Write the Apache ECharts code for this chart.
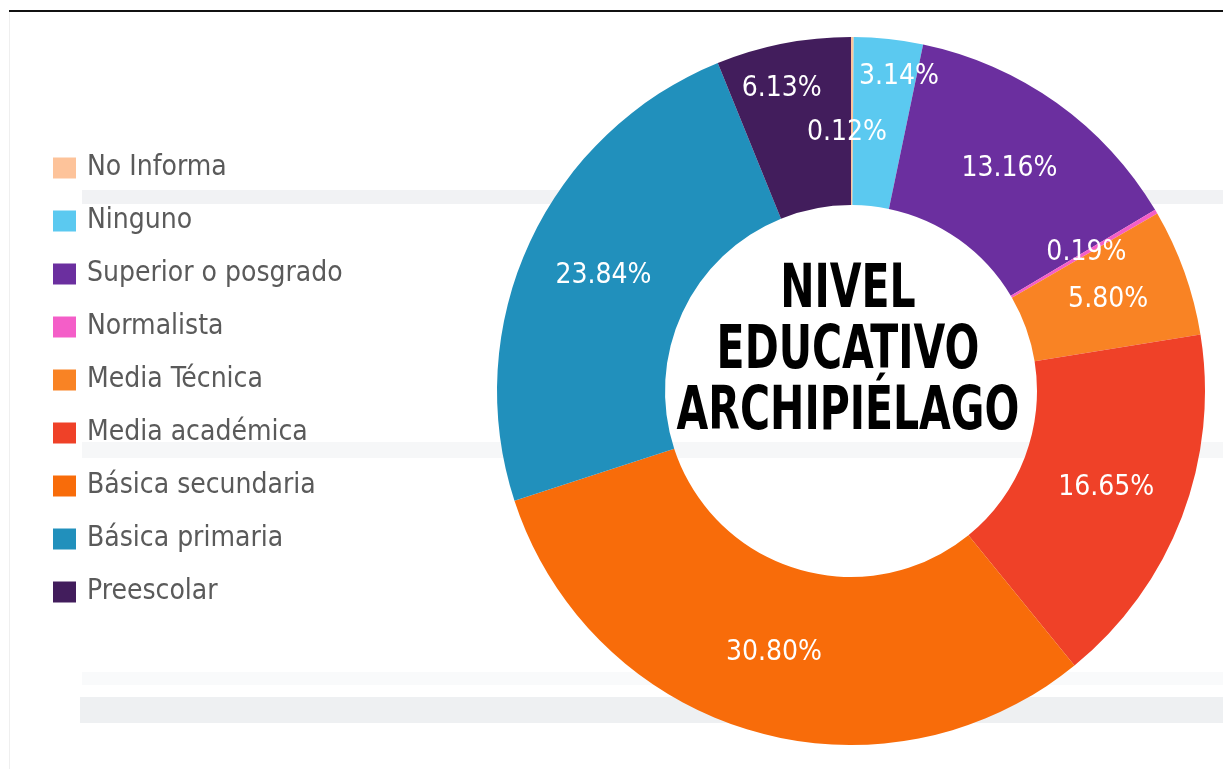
<!DOCTYPE html>
<html lang="es">
<head>
  <meta charset="UTF-8">
  <title>Nivel educativo Archipiélago</title>
  <style>
    body {
      margin: 0;
      padding: 0;
      background: #fff;
    }
    #main {
      width: 1223px;
      height: 769px;
    }
  </style>
</head>
<body>
  <div id="main"></div>
</body>
</html>
<script src="https://cdn.jsdelivr.net/npm/echarts@6/dist/echarts.min.js"></script>
<script>

var categories = ['No Informa', 'Ninguno', 'Superior o posgrado', 'Normalista', 'Media Técnica',
  'Media académica', 'Básica secundaria', 'Básica primaria', 'Preescolar']
var percents = [0.12, 3.14, 13.16, 0.19, 5.80, 16.65, 30.80, 23.84, 6.13]
var colors = ['#fdc39a', '#5bc9f0', '#6b2f9f', '#f45ec8', '#f98324',
  '#ef4128', '#f86c0a', '#2190bc', '#421d5c']
var centerTitle = 'NIVEL\nEDUCATIVO\nARCHIPIÉLAGO'

// a few labels sit off the ring middle in the original
var labelShift = {
  'No Informa': [-5, 15],
  'Ninguno': [19, -43],
  'Preescolar': [-17, -34]
}

var narrow = "'DejaVu Sans Condensed', 'Liberation Sans', sans-serif"

var chart = echarts.init(document.getElementById('main'))

var pieData = categories.map(function (name, i) {
  return { name: name, value: percents[i], itemStyle: { color: colors[i] } }
})

var option = {
  animation: false,
  backgroundColor: '#fff',
  graphic: [
    // faint scan stripes of the source picture
    { type: 'rect', z: -10, shape: { x: 82, y: 190, width: 1141, height: 14 }, style: { fill: '#f1f2f4' } },
    { type: 'rect', z: -10, shape: { x: 82, y: 442, width: 1141, height: 16 }, style: { fill: '#f6f7f8' } },
    { type: 'rect', z: -10, shape: { x: 82, y: 672, width: 1141, height: 13 }, style: { fill: '#f9fafb' } },
    { type: 'rect', z: -10, shape: { x: 80, y: 697, width: 1143, height: 26 }, style: { fill: '#eef0f2' } },
    { type: 'rect', z: -10, shape: { x: 9, y: 12, width: 1, height: 757 }, style: { fill: '#efefef' } },
    { type: 'rect', z: 10, shape: { x: 9, y: 10, width: 1214, height: 2 }, style: { fill: '#111' } },
    {
      type: 'text',
      z: 100,
      x: 848,
      y: 352,
      scaleX: 0.76,
      style: {
        text: centerTitle,
        fill: '#000',
        font: 'bold 60px ' + narrow,
        lineHeight: 61,
        align: 'center',
        verticalAlign: 'middle'
      }
    }
  ],
  legend: {
    orient: 'vertical',
    left: 48,
    top: 148,
    itemWidth: 23,
    itemHeight: 21,
    itemGap: 23,
    icon: 'rect',
    data: categories,
    textStyle: {
      fontFamily: narrow,
      fontSize: 28,
      lineHeight: 30,
      color: '#5a5a5a',
      padding: [0, 0, 0, 6]
    }
  },
  series: [
    {
      type: 'pie',
      center: [851, 391],
      radius: [186, 354],
      startAngle: 90,
      clockwise: true,
      avoidLabelOverlap: false,
      itemStyle: { borderWidth: 0 },
      label: {
        show: true,
        position: 'inside',
        color: '#fff',
        fontFamily: narrow,
        fontSize: 28,
        formatter: function (p) {
          return p.value.toFixed(2) + '%'
        }
      },
      labelLine: { show: false },
      labelLayout: function (p) {
        var s = labelShift[categories[p.dataIndex]]
        return s ? { dx: s[0], dy: s[1] } : {}
      },
      emphasis: { disabled: true },
      data: pieData
    }
  ]
}
chart.setOption(option)

</script>
